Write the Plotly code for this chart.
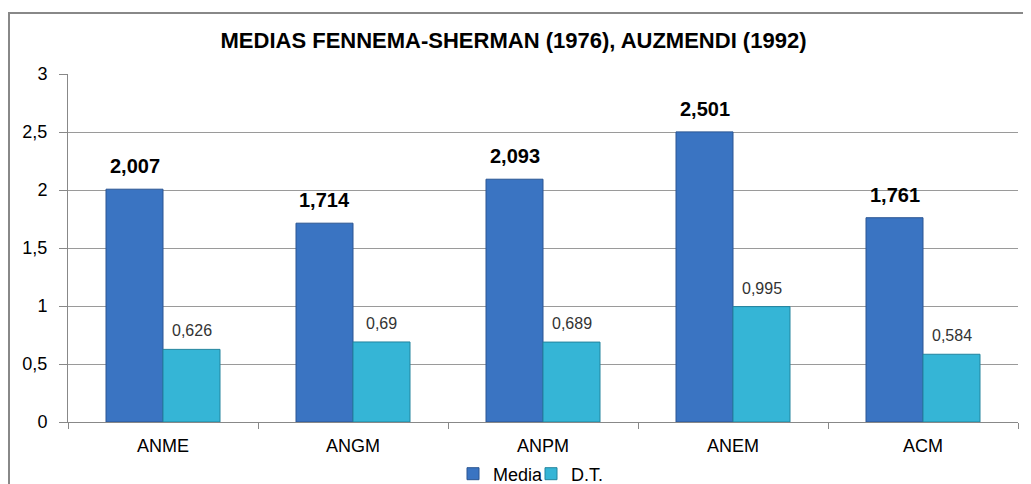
import plotly.graph_objects as go

categories = ["ANME", "ANGM", "ANPM", "ANEM", "ACM"]
media = [2.007, 1.714, 2.093, 2.501, 1.761]
dt = [0.626, 0.69, 0.689, 0.995, 0.584]
media_labels = ["2,007", "1,714", "2,093", "2,501", "1,761"]
dt_labels = ["0,626", "0,69", "0,689", "0,995", "0,584"]
y_ticks = [0, 0.5, 1, 1.5, 2, 2.5, 3]
y_tick_text = ["0", "0,5", "1", "1,5", "2", "2,5", "3"]

FONT = "Arial, Liberation Sans, sans-serif"
OFF = 8  # page body margin
W, H = 1031 - OFF, 484 - OFF
L, T = 68 - OFF, 74 - OFF
R = W - (1018 - OFF)
B = H - (422 - OFF)
PW, PH = W - L - R, H - T - B


def px_x(x):
    return (x - OFF - L) / PW


def px_y(y):
    return 1 - (y - OFF - T) / PH


fig = go.Figure()
fig.add_trace(go.Bar(
    x=categories, y=media, name="Media", legend="legend",
    marker=dict(color="#3a74c2", line=dict(color="#2a5592", width=1)),
))
fig.add_trace(go.Bar(
    x=categories, y=dt, name="D.T.", legend="legend2",
    marker=dict(color="#35b5d6", line=dict(color="#23849e", width=1)),
))

bar_w = PW / 5 * 0.3
for c, v, t in zip(categories, media, media_labels):
    fig.add_annotation(x=c, y=v, text=t, showarrow=False, xshift=-bar_w / 2,
                       yanchor="bottom", yshift=10,
                       font=dict(family=FONT, size=20, color="#000000", weight="bold"))
for c, v, t in zip(categories, dt, dt_labels):
    fig.add_annotation(x=c, y=v, text=t, showarrow=False, xshift=bar_w / 2,
                       yanchor="bottom", yshift=8,
                       font=dict(family=FONT, size=16, color="#333333"))

# outer chart frame
fig.add_shape(type="rect", xref="paper", yref="paper",
              x0=px_x(9), x1=px_x(1045),
              y0=px_y(500), y1=px_y(13),
              line=dict(color="#888888", width=2), layer="below")

legend_common = dict(orientation="h", yanchor="middle", y=px_y(474), xanchor="left",
                     font=dict(family=FONT, size=18), itemwidth=30,
                     bgcolor="rgba(0,0,0,0)", borderwidth=0)

fig.update_layout(
    width=W, height=H,
    margin=dict(l=L, r=R, t=T, b=B, autoexpand=False),
    paper_bgcolor="white", plot_bgcolor="white",
    barmode="group", bargap=0.4, bargroupgap=0,
    font=dict(family=FONT, size=18, color="#000000"),
    title=dict(text="<b>MEDIAS FENNEMA-SHERMAN (1976), AUZMENDI (1992)</b>",
               x=(513.5 - OFF) / W, xanchor="center", y=1 - (40 - OFF) / H, yanchor="middle",
               font=dict(family=FONT, size=22, color="#000000")),
    showlegend=True,
    legend=dict(x=px_x(453), **legend_common),
    legend2=dict(x=px_x(531), **legend_common),
    xaxis=dict(showgrid=False, showline=True, linecolor="#888888", linewidth=1,
               ticks="outside", tickson="boundaries", ticklen=6, tickcolor="#888888",
               ticklabelstandoff=7, tickfont=dict(family=FONT, size=18),
               automargin=False),
    yaxis=dict(range=[0, 3], tickvals=y_ticks, ticktext=y_tick_text,
               showgrid=True, gridcolor="#9a9a9a", gridwidth=1,
               showline=True, linecolor="#888888", linewidth=1,
               ticks="outside", ticklen=8, tickcolor="#888888",
               ticklabelstandoff=8, tickfont=dict(family=FONT, size=18),
               zeroline=False, automargin=False),
)

fig.write_html("out.html")
